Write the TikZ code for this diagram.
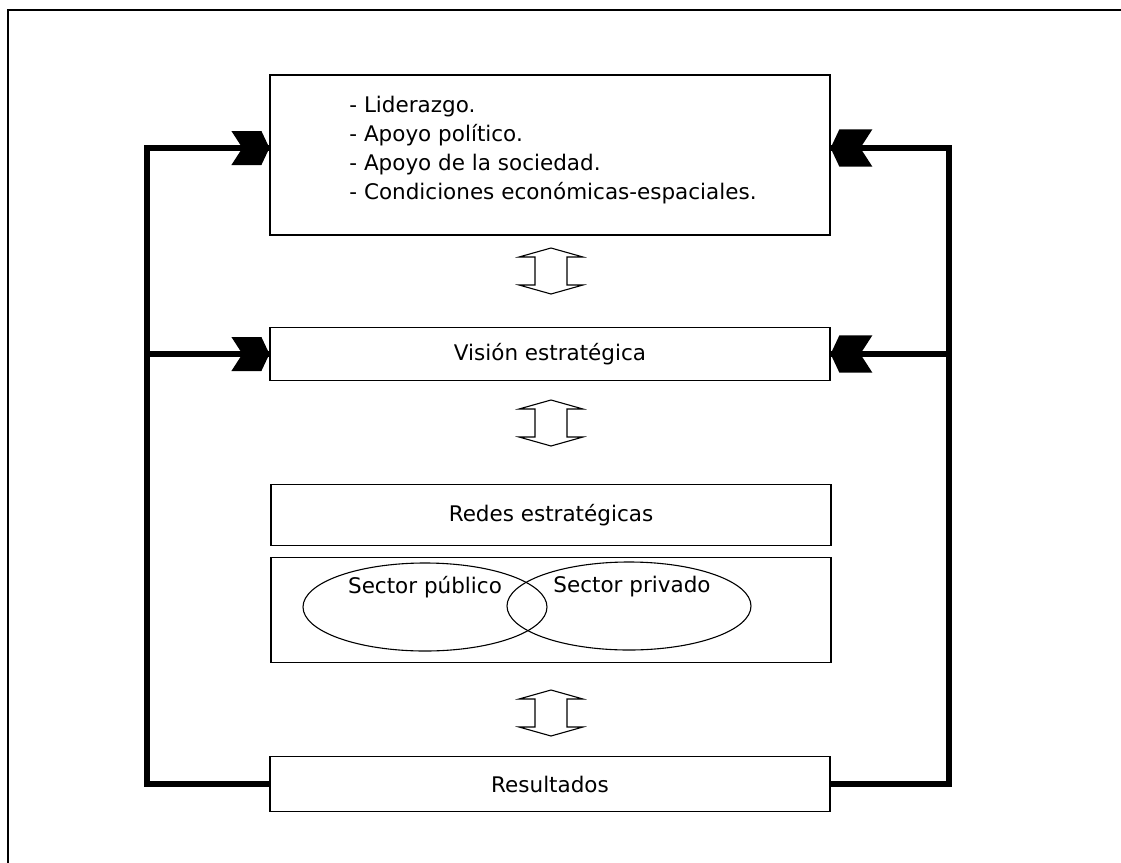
\documentclass[tikz,border=0pt]{standalone}
\usepackage{fontspec}
\setmainfont{DejaVu Sans}
\usetikzlibrary{positioning,shapes.geometric}

\tikzset{
  box/.style={rectangle,draw,line width=1.2pt,minimum width=560pt,inner sep=0pt},
  venn/.style={ellipse,draw,line width=1.1pt,minimum width=244pt,minimum height=88pt},
  feed/.style={line width=6pt,line join=miter},
  chev/.pic={\fill (0,0) -- (-8,-17) -- (-38,-17) -- (-27,0) -- (-38,17) -- (-8,17) -- cycle;},
  dbl/.pic={\draw[line width=1.1pt,fill=white] (0,-23) -- (32,-14) -- (16,-14) -- (16,14) -- (32,14)
      -- (0,23) -- (-32,14) -- (-16,14) -- (-16,-14) -- (-32,-14) -- cycle;}
}

\begin{document}
\begin{tikzpicture}[x=1pt,y=-1pt,font=\fontsize{21.5}{29}\selectfont]
    \useasboundingbox (0,0) rectangle (1121,862) ;
    % outer frame
    \draw[line width=1.5pt] (8,870) -- (8,10) -- (1130,10) ;

    \node[box,minimum height=160pt] (fact) at (550,155) {} ;
    \node[align=left,inner sep=0pt] (fact_txt) at (553,150)
        {- Liderazgo.\\- Apoyo político.\\- Apoyo de la sociedad.\\- Condiciones económicas-espaciales.} ;
    \node[box,minimum height=53pt] (vis) at (550,354) {Visión estratégica} ;
    \node[box,minimum height=61pt] (redes) at (551,515) {Redes estratégicas} ;
    \node[box,minimum height=105pt] (sect) at (551,610) {} ;
    \node[box,minimum height=55pt] (res) at (550,784) {Resultados} ;

    \node[venn] (pub) at (425,607) {} ;
    \node[venn] (priv) at (629,606) {} ;
    \node (pub_txt) at (425,587) {Sector público} ;
    \node (priv_txt) at (632,587) {Sector privado} ;

    \pic at (551,271) {dbl} ;
    \pic at (551,423) {dbl} ;
    \pic at (551,713) {dbl} ;

    \draw[feed] (res.west) -- ++(-122,0) |- ([yshift=7pt]fact.west) ;
    \draw[feed] (vis.west) -- ++(-122,0) ;
    \draw[feed] (res.east) -- ++(118,0) |- ([yshift=7pt]fact.east) ;
    \draw[feed] (vis.east) -- ++(118,0) ;

    \pic at ([yshift=7pt]fact.west) {chev} ;
    \pic at (vis.west) {chev} ;
    \pic[rotate=180,scale=1.1] at ([yshift=7pt]fact.east) {chev} ;
    \pic[rotate=180,scale=1.1] at (vis.east) {chev} ;
\end{tikzpicture}
\end{document}
